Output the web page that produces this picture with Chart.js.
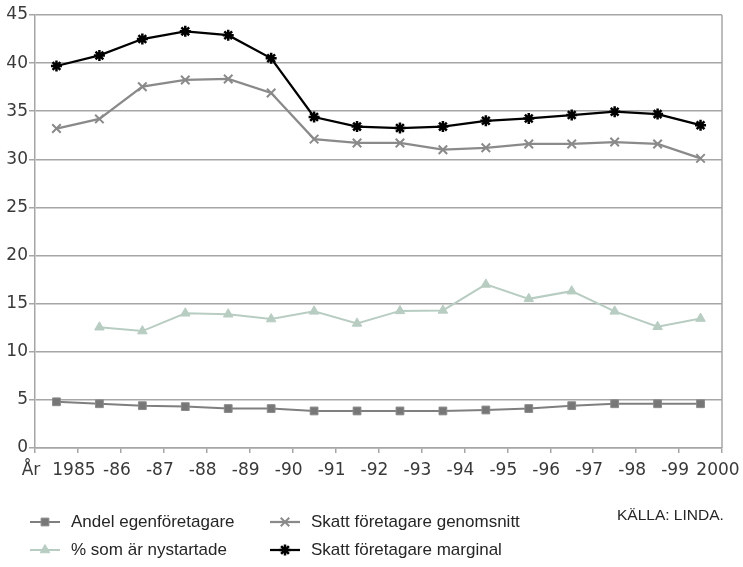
<!DOCTYPE html>
<html>
<head>
<meta charset="utf-8">
<script src="https://cdn.jsdelivr.net/npm/chart.js@4"></script>
<style>
  html, body { margin: 0; padding: 0; background: #ffffff; }
  #wrap { position: relative; width: 743px; height: 567px; overflow: hidden; }
  #c { position: absolute; left: 0; top: 0; }
  .lg { position: absolute; font-family: "Liberation Sans", Arial, sans-serif; font-size: 17px; line-height: 20px; color: #262626; white-space: nowrap; }
  .src { position: absolute; font-family: "Liberation Sans", Arial, sans-serif; font-size: 15.5px; line-height: 20px; color: #262626; white-space: nowrap; }
</style>
</head>
<body>
<div id="wrap">
  <canvas id="c" width="743" height="567"></canvas>
  <div class="lg" style="left:71px; top:512px;">Andel egenföretagare</div>
  <div class="lg" style="left:311px; top:512px;">Skatt företagare genomsnitt</div>
  <div class="lg" style="left:71px; top:540px;">% som är nystartade</div>
  <div class="lg" style="left:311px; top:540px;">Skatt företagare marginal</div>
  <div class="src" style="left:617px; top:505px;">KÄLLA: LINDA.</div>
</div>
<script>
// ---- data ----
const years = ['1985','1986','1987','1988','1989','1990','1991','1992','1993','1994','1995','1996','1997','1998','1999','2000'];
const xTickLabels = ['År','1985','-86','-87','-88','-89','-90','-91','-92','-93','-94','-95','-96','-97','-98','-99','2000'];
const andelEgen = [4.8, 4.6, 4.4, 4.3, 4.1, 4.1, 3.85, 3.85, 3.85, 3.85, 3.95, 4.1, 4.4, 4.6, 4.6, 4.6];
const nystartade = [null, 12.55, 12.15, 14.0, 13.9, 13.4, 14.2, 12.95, 14.25, 14.3, 17.0, 15.5, 16.3, 14.2, 12.6, 13.45];
const skattGenomsnitt = [33.2, 34.2, 37.55, 38.25, 38.35, 36.9, 32.1, 31.7, 31.7, 31.0, 31.2, 31.6, 31.6, 31.8, 31.6, 30.1];
const skattMarginal = [39.7, 40.8, 42.5, 43.3, 42.9, 40.5, 34.4, 33.4, 33.25, 33.4, 34.0, 34.25, 34.6, 34.95, 34.7, 33.55];
const seriesNames = ['Andel egenföretagare', '% som är nystartade', 'Skatt företagare genomsnitt', 'Skatt företagare marginal'];

const toPoints = arr => arr.map((v, i) => ({ x: i + 0.5, y: v }));
const gridColor = '#a6a6a6';

const datasets = [
  { label: seriesNames[0], data: toPoints(andelEgen), borderColor: '#7f7f7f', backgroundColor: '#7a7a7a',
    borderWidth: 2, pointStyle: 'rect', pointRadius: 5.5, pointBorderWidth: 1, pointBorderColor: '#8a8a8a', pointBackgroundColor: '#777777' },
  { label: seriesNames[1], data: toPoints(nystartade), borderColor: '#b8cdc2', backgroundColor: '#b8cdc2',
    borderWidth: 2, pointStyle: 'triangle', pointRadius: 5.5, pointBorderWidth: 1, pointBorderColor: '#b8cdc2', pointBackgroundColor: '#b8cdc2' },
  { label: seriesNames[2], data: toPoints(skattGenomsnitt), borderColor: '#8a8a8a', backgroundColor: '#8a8a8a',
    borderWidth: 2.25, pointStyle: 'crossRot', pointRadius: 6, pointBorderWidth: 2, pointBorderColor: '#8a8a8a' },
  { label: seriesNames[3], data: toPoints(skattMarginal), borderColor: '#000000', backgroundColor: '#000000',
    borderWidth: 2.25, pointStyle: 'star', pointRadius: 5.5, pointBorderWidth: 2.5, pointBorderColor: '#000000' }
];

function drawMarker(ctx, style, r, bw, fill, stroke, x, y) {
  const opts = { pointStyle: style, radius: r, borderWidth: bw, rotation: 0 };
  ctx.save();
  ctx.fillStyle = fill; ctx.strokeStyle = stroke; ctx.lineWidth = bw;
  if (Chart.helpers && Chart.helpers.drawPoint) {
    Chart.helpers.drawPoint(ctx, opts, x, y);
  }
  ctx.restore();
}

const extras = {
  id: 'extras',
  afterDraw(chart) {
    const ctx = chart.ctx;
    const a = chart.chartArea;
    ctx.save();
    ctx.strokeStyle = gridColor; ctx.lineWidth = 1.5;
    ctx.beginPath(); ctx.moveTo(a.right, a.top); ctx.lineTo(a.right, a.bottom); ctx.stroke();
    ctx.restore();
    const slots = [
      { ds: 0, x0: 30, y: 522 },
      { ds: 1, x0: 30, y: 550 },
      { ds: 2, x0: 270, y: 522 },
      { ds: 3, x0: 270, y: 550 }
    ];
    slots.forEach(s => {
      const d = chart.data.datasets[s.ds];
      ctx.save();
      ctx.strokeStyle = d.borderColor; ctx.lineWidth = d.borderWidth;
      ctx.beginPath(); ctx.moveTo(s.x0, s.y); ctx.lineTo(s.x0 + 30, s.y); ctx.stroke();
      ctx.restore();
      drawMarker(ctx, d.pointStyle, d.pointRadius, d.pointBorderWidth,
        d.pointBackgroundColor || d.backgroundColor, d.pointBorderColor || d.borderColor, s.x0 + 15, s.y);
    });
  }
};

new Chart(document.getElementById('c'), {
  type: 'line',
  data: { labels: years, datasets },
  plugins: [extras],
  options: {
    responsive: false,
    devicePixelRatio: 1,
    animation: false,
    layout: { padding: { left: 0, right: 21, top: 15, bottom: 89 } },
    plugins: { legend: { display: false }, tooltip: { enabled: false } },
    elements: { line: { tension: 0 } },
    scales: {
      x: {
        type: 'linear', min: 0, max: 16,
        afterBuildTicks: s => { s.ticks = xTickLabels.map((_, i) => ({ value: i })); },
        afterFit: s => { s.height = 30; s.paddingLeft = 0; s.paddingRight = 0; },
        ticks: {
          autoSkip: false, maxRotation: 0, padding: 7, labelOffset: -4,
          color: '#3a3a3a', font: { family: 'DejaVu Sans', size: 17 },
          callback: (v, i) => xTickLabels[i]
        },
        grid: { drawOnChartArea: false, drawTicks: true, tickLength: 5, color: gridColor, lineWidth: 1.5 },
        border: { display: true, color: gridColor, width: 1.5 }
      },
      y: {
        min: 0, max: 45,
        afterFit: s => { s.width = 35; },
        ticks: { stepSize: 5, padding: 1, color: '#3a3a3a', font: { family: 'DejaVu Sans', size: 17 } },
        grid: { color: gridColor, lineWidth: 1.5, drawTicks: true, tickLength: 6 },
        border: { display: true, color: gridColor, width: 1.5 }
      }
    }
  }
});
</script>
</body>
</html>
